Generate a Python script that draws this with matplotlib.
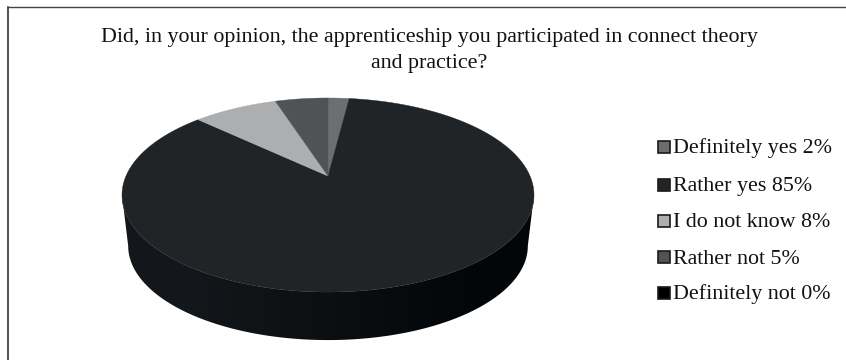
import numpy as np
import matplotlib
matplotlib.use('Agg')
import matplotlib.pyplot as plt
from matplotlib.patches import Rectangle, Polygon

labels = ['Definitely yes 2%', 'Rather yes 85%', 'I do not know 8%', 'Rather not 5%', 'Definitely not 0%']
values = [2, 85, 8, 5, 0]
top_colors = ['#6b6f70', '#202427', '#acaeaf', '#4f5355', '#000000']

title_lines = ['Did, in your opinion, the apprenticeship you participated in connect theory',
               'and practice?']

# pie position in pixels
cx, cy = 328, 176
A, B, p = 202, 93.3, 0.196
depth = 51.5
shrink = 0.97


def project(t, x0, y0, scale):
    # tilted disc, far side is smaller
    X = np.sin(t)
    Y = np.cos(t)
    w = 1 + p * Y
    return x0 + scale * A * X / w, y0 - scale * B * Y / w


fig = plt.figure(figsize=(8.46, 3.6), dpi=100)
ax = fig.add_axes([0, 0, 1, 1])
ax.axis('off')

# frame, only top and left are there
ax.plot([7.5, 7.5], [360, 6.5], color='#222222', lw=1.1)
ax.plot([7.5, 846], [6.5, 6.5], color='#444444', lw=1)

# side wall with a soft left to right shading
cy2 = cy + depth
t = np.arccos(-p)
t = np.linspace(t, 2 * np.pi - t, 200)
x1, y1 = project(t, cx, cy, 1)
x2, y2 = project(t, cx, cy2, shrink)
wall = Polygon(np.c_[np.r_[x1, x2[::-1]], np.r_[y1, y2[::-1]]], closed=True, fc='none', ec='none')
ax.add_patch(wall)
shade = np.array([[[0.075, 0.09, 0.105], [0.045, 0.06, 0.07], [0.015, 0.025, 0.035]]])
img = ax.imshow(shade, extent=(122, 534, 345, 190), aspect='auto', interpolation='bilinear')
img.set_clip_path(wall)
ax.set_xlim(0, 846)
ax.set_ylim(360, 0)

# top face
start = 0.0
for val, col in zip(values, top_colors):
    if val == 0:
        continue
    t = np.radians(np.linspace(start, start + val * 3.6, max(int(val * 4), 8)))
    x, y = project(t, cx, cy, 1)
    ax.fill(np.r_[cx, x], np.r_[cy, y], color=col, lw=0.3)
    start += val * 3.6

# title
for line, ty in zip(title_lines, [42, 68]):
    ax.text(429, ty, line, family='Liberation Serif', fontsize=15.8, color='#111111',
            ha='center', va='baseline')

# legend
legend_y = [147, 184.5, 220.5, 257, 293]
for lab, col, ly in zip(labels, top_colors, legend_y):
    ax.add_patch(Rectangle((658, ly - 6), 12, 12, fc=col, ec='#1a1a1a', lw=1.2))
    ax.text(673, ly + 6.5, lab, family='Liberation Serif', fontsize=15.8, color='#111111',
            ha='left', va='baseline')

fig.savefig('out.png', dpi=100)
